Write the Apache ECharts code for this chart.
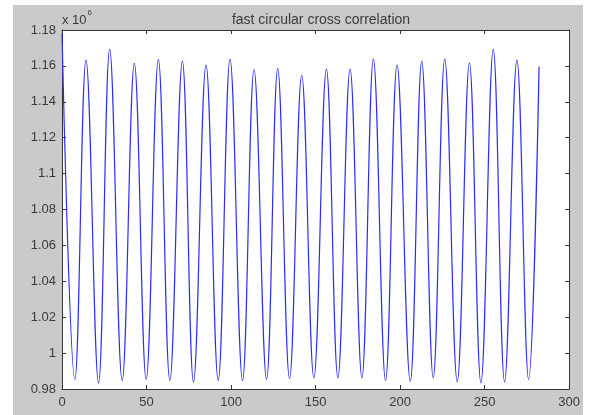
<!DOCTYPE html>
<html>
<head>
<meta charset="utf-8">
<script src="https://cdn.jsdelivr.net/npm/echarts@6/dist/echarts.min.js"></script>
<style>
  html, body { margin: 0; padding: 0; background: #fff; }
  #main { position: absolute; left: 13px; top: 5px; width: 570px; height: 410px; background: #cacaca; }
</style>
</head>
<body>
<div id="main"></div>
<script>
// sample index / value (x 10^6) of each crest (first = start, last = end)
var peakX = [0, 14.2, 28.2, 42.8, 57.0, 71.2, 85.2, 99.4, 113.6, 127.6, 141.8, 156.4, 170.4, 184.2, 198.2, 212.8, 226.4, 241.0, 255.1, 269.1, 282.2];
var peakY = [1.178, 1.1632, 1.1692, 1.1614, 1.1636, 1.1627, 1.1604, 1.1638, 1.158, 1.1586, 1.1548, 1.1582, 1.1582, 1.1638, 1.1604, 1.1627, 1.1638, 1.1617, 1.1692, 1.1632, 1.1595];
// troughs between them
var troughX = [7.6, 21.6, 35.6, 49.8, 63.8, 77.8, 92.4, 106.8, 121.0, 134.6, 149.0, 163.2, 177.4, 191.4, 206.0, 219.6, 233.8, 247.8, 261.8, 276.0];
var troughY = [0.9853, 0.9834, 0.9847, 0.9853, 0.9847, 0.9838, 0.9847, 0.9847, 0.9853, 0.9858, 0.9862, 0.9862, 0.9862, 0.9847, 0.9843, 0.9862, 0.984, 0.9834, 0.984, 0.9853];

var xTicks = [0, 50, 100, 150, 200, 250, 300];
var yTicks = [0.98, 1, 1.02, 1.04, 1.06, 1.08, 1.1, 1.12, 1.14, 1.16, 1.18];

// crest, trough, crest, ...
var points = [];
for (var i = 0; i < peakX.length; i++) {
    points.push([peakX[i], peakY[i]]);
    if (i < troughX.length) points.push([troughX[i], troughY[i]]);
}

var chart = echarts.init(document.getElementById('main'));

var axisCol = '#333';
var fnt = 'Liberation Sans, Arial, sans-serif';

option = {
    animation: false,
    textStyle: { fontFamily: fnt },
    title: {
        text: 'fast circular cross correlation',
        left: 303,
        top: 3,
        textAlign: 'center',
        textStyle: { fontSize: 14, fontWeight: 'normal', color: '#3a3a3a', fontFamily: fnt }
    },
    graphic: [{
        type: 'text',
        left: 49,
        top: 4,
        style: {
            text: '{a|x 10}{b|6}',
            rich: {
                a: { fontSize: 13, fill: '#3a3a3a', fontFamily: fnt, verticalAlign: 'bottom', lineHeight: 18 },
                b: { fontSize: 8, fill: '#3a3a3a', fontFamily: fnt, verticalAlign: 'top', padding: [0, 0, 0, 1] }
            }
        }
    }],
    grid: {
        left: 49, top: 25, right: 7, bottom: 26,
        show: true, backgroundColor: '#fff', borderWidth: 0
    },
    xAxis: [{
        type: 'value',
        min: xTicks[0], max: xTicks[xTicks.length - 1], interval: 50,
        axisLine: { onZero: false, lineStyle: { color: axisCol } },
        axisTick: { inside: true, length: 4, lineStyle: { color: axisCol } },
        axisLabel: { color: '#3a3a3a', fontSize: 13, margin: 7 },
        splitLine: { show: false }
    }, {
        type: 'value', position: 'top',
        min: xTicks[0], max: xTicks[xTicks.length - 1], interval: 50,
        axisLine: { onZero: false, lineStyle: { color: axisCol } },
        axisTick: { inside: true, length: 4, lineStyle: { color: axisCol } },
        axisLabel: { show: false },
        splitLine: { show: false }
    }],
    yAxis: [{
        type: 'value',
        min: yTicks[0], max: yTicks[yTicks.length - 1], interval: 0.02,
        axisLine: { show: true, onZero: false, lineStyle: { color: axisCol } },
        axisTick: { show: true, inside: true, length: 4, lineStyle: { color: axisCol } },
        axisLabel: {
            color: '#3a3a3a', fontSize: 13, margin: 6,
            formatter: function (v) { return String(parseFloat(v.toFixed(2))); }
        },
        splitLine: { show: false }
    }, {
        type: 'value', position: 'right',
        min: yTicks[0], max: yTicks[yTicks.length - 1], interval: 0.02,
        axisLine: { show: true, onZero: false, lineStyle: { color: axisCol } },
        axisTick: { show: true, inside: true, length: 4, lineStyle: { color: axisCol } },
        axisLabel: { show: false },
        splitLine: { show: false }
    }],
    series: [{
        type: 'line',
        data: points,
        smooth: 0.4,
        showSymbol: false,
        lineStyle: { color: '#2b2bff', width: 1.2 }
    }]
};

chart.setOption(option);
</script>
</body>
</html>
